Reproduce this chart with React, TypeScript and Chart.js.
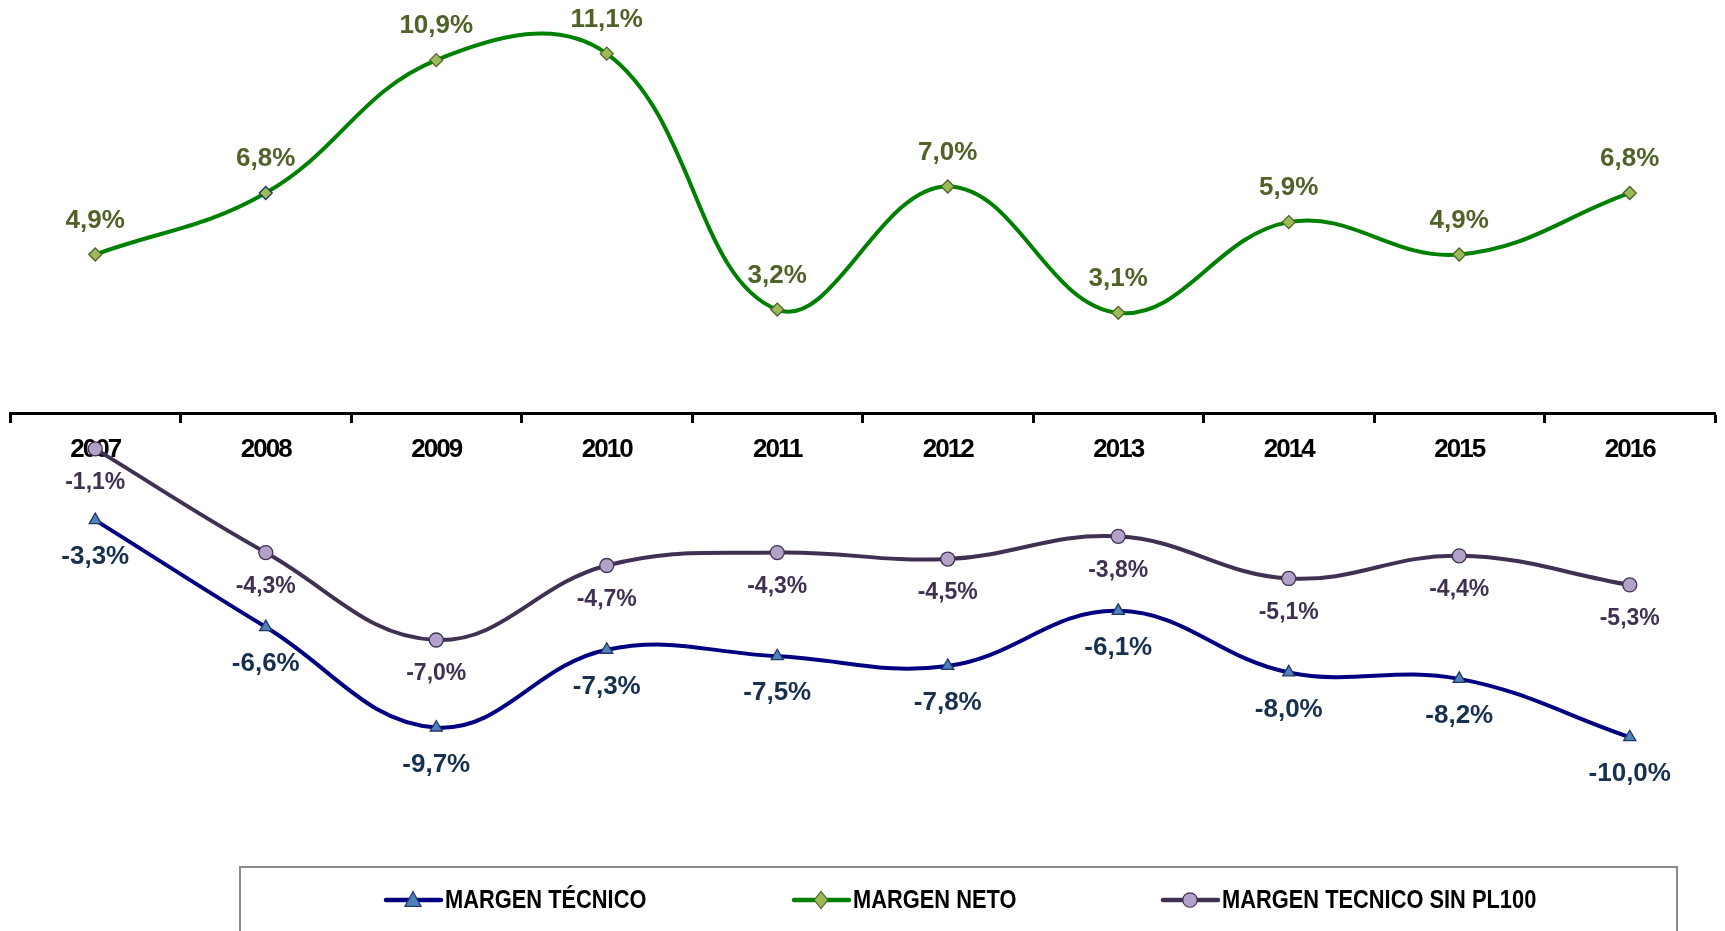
import { useEffect, useRef } from 'react';
import { Chart, registerables } from 'chart.js';

Chart.register(...registerables);

const categories = ['2007', '2008', '2009', '2010', '2011', '2012', '2013', '2014', '2015', '2016'];
const margenTecnico = [-3.3, -6.6, -9.7, -7.3, -7.5, -7.8, -6.1, -8.0, -8.2, -10.0];
const margenNeto = [4.9, 6.8, 10.9, 11.1, 3.2, 7.0, 3.1, 5.9, 4.9, 6.8];
const margenSinPL100 = [-1.1, -4.3, -7.0, -4.7, -4.3, -4.5, -3.8, -5.1, -4.4, -5.3];
const seriesNames = ['MARGEN TÉCNICO', 'MARGEN NETO', 'MARGEN TECNICO SIN PL100'];

const FONT = "'Liberation Sans', Arial, sans-serif";

const fmt = (v: number) => v.toFixed(1).replace('.', ',') + '%';

const styles = [
  { line: '#000080', fill: '#4F81BD', border: '#1F3864', label: '#17304F', point: 'triangle', offset: 37, font: `bold 26px ${FONT}` },
  { line: '#008000', fill: '#9BBB59', border: '#4F6228', label: '#4F6228', point: 'rectRot', offset: -34, font: `bold 26px ${FONT}` },
  { line: '#403152', fill: '#B3A2C7', border: '#403152', label: '#403152', point: 'circle', offset: 34, font: `bold 23px ${FONT}` },
];

function drawMarker(ctx: CanvasRenderingContext2D, kind: string, x: number, y: number, r: number) {
  ctx.beginPath();
  if (kind === 'triangle') {
    ctx.moveTo(x, y - r);
    ctx.lineTo(x + r * 0.95, y + r * 0.75);
    ctx.lineTo(x - r * 0.95, y + r * 0.75);
    ctx.closePath();
  } else if (kind === 'rectRot') {
    ctx.moveTo(x - r * 0.8, y);
    ctx.lineTo(x, y - r);
    ctx.lineTo(x + r * 0.8, y);
    ctx.lineTo(x, y + r);
    ctx.closePath();
  } else {
    ctx.arc(x, y, r * 0.85, 0, Math.PI * 2);
  }
  ctx.fill();
  ctx.stroke();
}

const spacingPlugin = {
  id: 'tickSpacing',
  beforeDraw(chart: any) {
    (chart.ctx as any).letterSpacing = '-2px';
  },
  beforeDatasetsDraw(chart: any) {
    (chart.ctx as any).letterSpacing = '0px';
  },
  afterDatasetsDraw(chart: any) {
    (chart.ctx as any).letterSpacing = '-2px';
  },
  afterDraw(chart: any) {
    (chart.ctx as any).letterSpacing = '0px';
  },
};

const labelsPlugin = {
  id: 'valueLabels',
  afterDatasetsDraw(chart: any) {
    const ctx = chart.ctx as CanvasRenderingContext2D;
    chart.data.datasets.forEach((ds: any, i: number) => {
      const meta = chart.getDatasetMeta(i);
      const st = styles[i];
      ctx.save();
      (ctx as any).letterSpacing = '0px';
      ctx.font = st.font;
      ctx.fillStyle = st.label;
      ctx.textAlign = 'center';
      ctx.textBaseline = 'middle';
      meta.data.forEach((pt: any, j: number) => {
        ctx.fillText(fmt(ds.data[j]), pt.x, pt.y + st.offset);
      });
      ctx.restore();
    });
  },
};

const legendPlugin = {
  id: 'boxLegend',
  afterDraw(chart: any) {
    const ctx = chart.ctx as CanvasRenderingContext2D;
    ctx.save();
    (ctx as any).letterSpacing = '0px';
    ctx.strokeStyle = '#8C8C8C';
    ctx.lineWidth = 2;
    ctx.strokeRect(240, 867, 1437, 90);
    const starts = [386, 794, 1163];
    const y = 900;
    seriesNames.forEach((name, i) => {
      const st = styles[i];
      const x0 = starts[i];
      ctx.strokeStyle = st.line;
      ctx.lineWidth = 4.5;
      ctx.lineCap = 'round';
      ctx.beginPath();
      ctx.moveTo(x0, y);
      ctx.lineTo(x0 + 55, y);
      ctx.stroke();
      ctx.fillStyle = st.fill;
      ctx.strokeStyle = st.border;
      ctx.lineWidth = 1.2;
      drawMarker(ctx, st.point, x0 + 27, y, 8.5);
      ctx.fillStyle = '#000000';
      ctx.font = `bold 26px ${FONT}`;
      ctx.textAlign = 'left';
      ctx.textBaseline = 'middle';
      ctx.save();
      ctx.translate(x0 + 59, y + 1);
      ctx.scale(0.84, 1);
      ctx.fillText(name, 0, 0);
      ctx.restore();
    });
    ctx.restore();
  },
};

export default function App() {
  const ref = useRef<HTMLCanvasElement | null>(null);
  useEffect(() => {
    document.body.style.margin = '0';
    if (!ref.current) return;
    const series = [margenTecnico, margenNeto, margenSinPL100];
    const chart = new Chart(ref.current, {
      type: 'line',
      data: {
        labels: categories,
        datasets: series.map((data, i) => ({
          label: seriesNames[i],
          data,
          borderColor: styles[i].line,
          borderWidth: 4,
          tension: 0.4,
          pointStyle: styles[i].point as any,
          pointRadius: i === 1 ? 6.5 : 7,
          pointBackgroundColor: styles[i].fill,
          pointBorderColor: i === 1 ? data.map((_, j) => (j === 1 ? '#1F3864' : styles[i].border)) : styles[i].border,
          pointBorderWidth: 1.3,
          clip: false as any,
        })),
      },
      options: {
        animation: false,
        responsive: false,
        layout: { padding: { left: 10, right: 10, top: 8, bottom: 129 } },
        plugins: {
          legend: { display: false },
          tooltip: { enabled: false },
        },
        scales: {
          y: { display: false, min: -12, max: 12.5 },
          x: {
            position: { y: 0 } as any,
            offset: true,
            grid: {
              offset: true,
              drawOnChartArea: false,
              drawTicks: true,
              tickLength: 8,
              tickWidth: 3,
              tickColor: '#000000',
              color: '#000000',
            },
            border: { display: true, color: '#000000', width: 3 },
            ticks: {
              color: '#000000',
              padding: 13,
              maxRotation: 0,
              autoSkip: false,
              font: { family: FONT, size: 26, weight: 'bold' },
            },
          },
        },
      },
      plugins: [spacingPlugin, labelsPlugin, legendPlugin],
    });
    return () => chart.destroy();
  }, []);
  return (
    <div style={{ width: 1725, height: 931 }}>
      <canvas ref={ref} width={1725} height={931} style={{ display: 'block' }} />
    </div>
  );
}
